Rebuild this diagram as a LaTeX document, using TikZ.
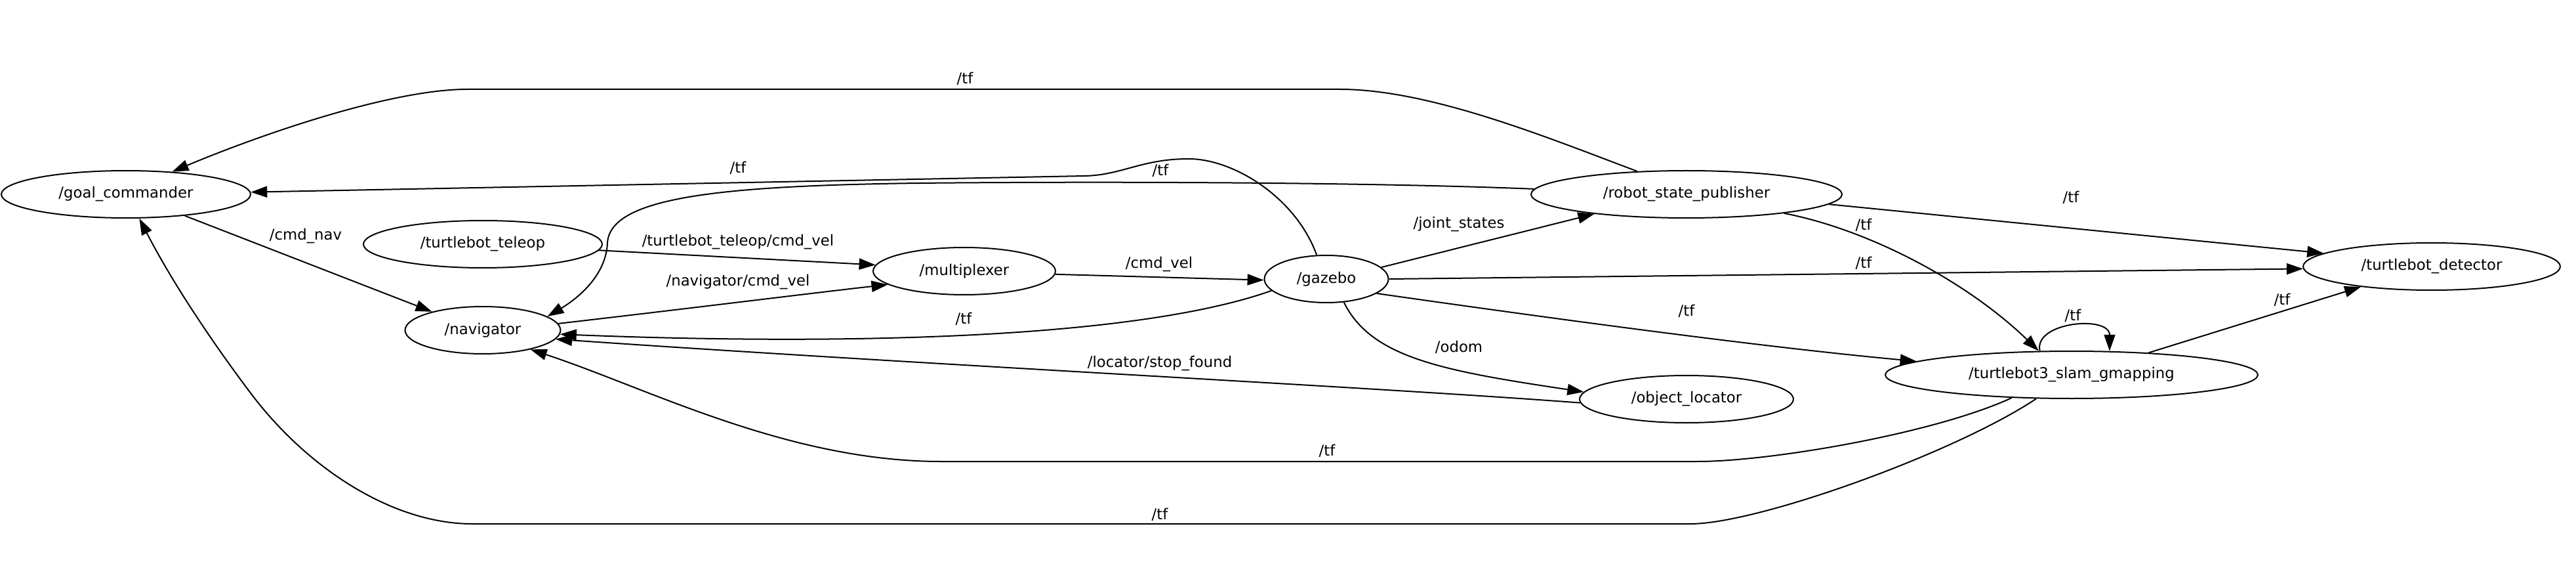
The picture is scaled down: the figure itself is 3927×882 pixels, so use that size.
\documentclass[tikz,border=0pt]{standalone}
\usepackage{fontspec}
\setmainfont{DejaVu Sans}
\usetikzlibrary{shapes.geometric,arrows.meta}
\begin{document}
\begin{tikzpicture}[x=1pt,y=-1pt,
  nd/.style={draw, ellipse, line width=2pt, inner sep=0pt, minimum height=72pt, font=\fontsize{22.8pt}{27pt}\selectfont},
  lbl/.style={inner sep=0pt, text height=17pt, text depth=5pt, font=\fontsize{22.8pt}{27pt}\selectfont},
  edge/.style={line width=2pt, -{Triangle[length=25pt,width=17pt]}}]
\useasboundingbox (0,0) rectangle (3927,882);
% nodes
\node[nd, minimum width=380pt] (goal) at (192,296) {/goal\_commander};
\node[nd, minimum width=364pt] (teleop) at (736,372) {/turtlebot\_teleop};
\node[nd, minimum width=237pt] (nav) at (736,503) {/navigator};
\node[nd, minimum width=278pt] (mux) at (1470,413) {/multiplexer};
\node[nd, minimum width=189pt] (gazebo) at (2022,425) {/gazebo};
\node[nd, minimum width=474pt] (rsp) at (2571,296) {/robot\_state\_publisher};
\node[nd, minimum width=326pt] (loc) at (2571,608) {/object\_locator};
\node[nd, minimum width=568pt] (slam) at (3158,571) {/turtlebot3\_slam\_gmapping};
\node[nd, minimum width=392pt] (det) at (3707,406) {/turtlebot\_detector};
% edges
\draw[edge] (rsp.155) .. controls (2360,210) and (2180,136) .. (2042,136) -- (713,136) .. controls (590,136) and (380,212) .. (goal.26);
\draw[edge] (gazebo.112) .. controls (1975,300) and (1880,242) .. (1812,242) .. controls (1740,242) and (1710,267) .. (1653,268) -- (goal.1);
\draw[edge] (rsp.178) .. controls (2100,278) and (1700,276) .. (1400,279) .. controls (1100,283) and (930,300) .. (926,370) .. controls (924,420) and (880,455) .. (nav.12);
\draw[edge] (gazebo.192) .. controls (1720,520) and (1250,525) .. (nav.-3);
\draw[edge] (loc.182) .. controls (2100,590) and (1400,555) .. (nav.-7);
\draw[edge] (slam.201) .. controls (2950,660) and (2700,703) .. (2587,703) -- (1435,703) .. controls (1200,703) and (987,591) .. (nav.-22);
\draw[edge] (slam.214) .. controls (2980,690) and (2680,798) .. (2577,798) -- (720,798) .. controls (600,798) and (470,715) .. (383,600) .. controls (330,530) and (265,435) .. (goal.-61);
\draw[edge] (goal.-20) -- (nav.160);
\draw[edge] (teleop.-3) -- (mux.176);
\draw[edge] (nav.5) .. controls (1050,470) and (1250,445) .. (mux.190);
\draw[edge] (mux.-2) -- (gazebo.181);
\draw[edge] (gazebo.12) -- (rsp.192);
\draw[edge] (gazebo.0) -- (det.181);
\draw[edge] (gazebo.-16) .. controls (2400,490) and (2700,530) .. (slam.175);
\draw[edge] (rsp.-11) .. controls (2850,350) and (3000,430) .. (slam.144);
\draw[edge] (rsp.-4) -- (det.173);
\draw[edge] (slam.16) -- (det.196);
\draw[edge] (slam.143) .. controls (3100,490) and (3216,480) .. (slam.32);
\draw[edge] (gazebo.-53) .. controls (2090,545) and (2200,565) .. (loc.176);
% labels
\node[lbl] (l1) at (1471,122) {/tf};
\node[lbl] (l2) at (1125,258) {/tf};
\node[lbl] (l3) at (1769,262) {/tf};
\node[lbl] (l4) at (466,360) {/cmd\_nav};
\node[lbl] (l5) at (1125,368) {/turtlebot\_teleop/cmd\_vel};
\node[lbl] (l6) at (1125,429) {/navigator/cmd\_vel};
\node[lbl] (l7) at (1767,402) {/cmd\_vel};
\node[lbl] (l8) at (1469,487) {/tf};
\node[lbl] (l9) at (1768,553) {/locator/stop\_found};
\node[lbl] (l10) at (2224,342) {/joint\_states};
\node[lbl] (l11) at (2224,530) {/odom};
\node[lbl] (l12) at (2571,475) {/tf};
\node[lbl] (l13) at (3157,303) {/tf};
\node[lbl] (l14) at (2841,345) {/tf};
\node[lbl] (l15) at (2841,402) {/tf};
\node[lbl] (l16) at (3160,482) {/tf};
\node[lbl] (l17) at (3479,458) {/tf};
\node[lbl] (l18) at (2023,688) {/tf};
\node[lbl] (l19) at (1768,785) {/tf};
\end{tikzpicture}
\end{document}
